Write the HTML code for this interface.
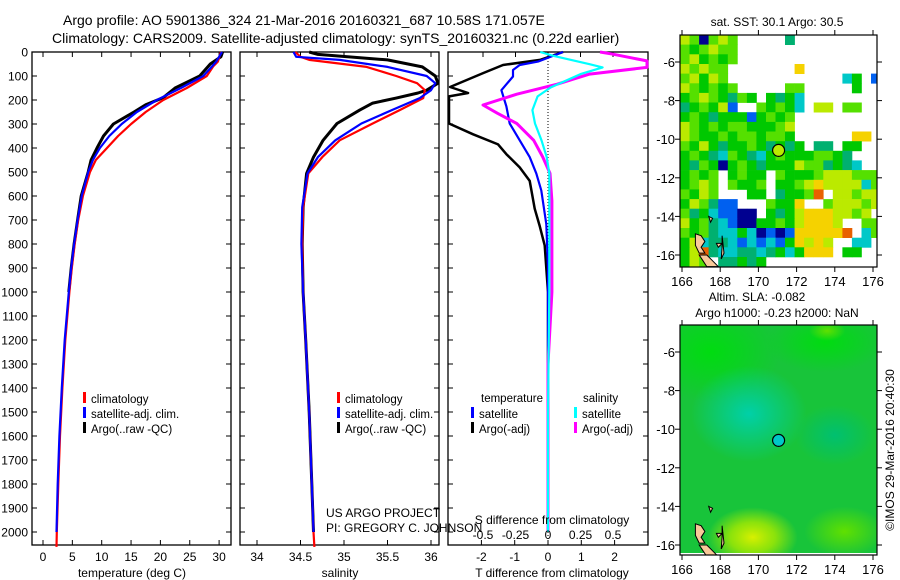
<!DOCTYPE html>
<html><head><meta charset="utf-8"><style>
html,body{margin:0;padding:0;background:#fff;}
svg{display:block;font-family:"Liberation Sans",sans-serif;}
text{fill:#000;}
</style></head><body>
<svg id="fig" width="900" height="580" viewBox="0 0 900 580">
<g id="defs-g"><defs>
<clipPath id="clipM1"><rect x="680" y="35" width="197" height="232"/></clipPath>
<clipPath id="clipM2"><rect x="680" y="325" width="197" height="230"/></clipPath>
<radialGradient id="gCyan" cx="0.5" cy="0.5" r="0.5"><stop offset="0" stop-color="#00d0a8"/><stop offset="1" stop-color="#00d0a8" stop-opacity="0"/></radialGradient>
<radialGradient id="gYel" cx="0.5" cy="0.5" r="0.5"><stop offset="0" stop-color="#d8f000"/><stop offset="0.5" stop-color="#a8ea00" stop-opacity="0.8"/><stop offset="1" stop-color="#a8ea00" stop-opacity="0"/></radialGradient>
<radialGradient id="gLime" cx="0.5" cy="0.5" r="0.5"><stop offset="0" stop-color="#60e000"/><stop offset="1" stop-color="#60e000" stop-opacity="0"/></radialGradient>
<radialGradient id="gTeal" cx="0.5" cy="0.5" r="0.5"><stop offset="0" stop-color="#00c070"/><stop offset="1" stop-color="#00c070" stop-opacity="0"/></radialGradient>
<radialGradient id="gBright" cx="0.5" cy="0.5" r="0.5"><stop offset="0" stop-color="#00dc10"/><stop offset="1" stop-color="#00dc10" stop-opacity="0"/></radialGradient>
</defs></g>
<text x="63" y="25" font-size="14">Argo profile: AO 5901386_324 21-Mar-2016 20160321_687 10.58S 171.057E</text>
<text x="52" y="43" font-size="14">Climatology: CARS2009. Satellite-adjusted climatology: synTS_20160321.nc (0.22d earlier)</text>
<g id="p1"></g><g id="p2"></g><g id="p3"></g>
<g id="m1"></g><g id="m2"></g>
</svg>
<script>
// ---------- data ----------
const depthTicks=[0,100,200,300,400,500,600,700,800,900,1000,1100,1200,1300,1400,1500,1600,1700,1800,1900,2000];
const tempTicks=[0,5,10,15,20,25,30];
const salTicks=[34,34.5,35,35.5,36];
const tdiffTicks=[-2,-1,0,1,2];
const sdiffTicks=[-0.5,-0.25,0,0.25,0.5];
const sdiffTickLabels=["-0.5","-0.25","0","0.25","0.5"];

const tClimDepth=[0,40,60,100,150,200,250,300,350,400,450,500,600,700,800,900,1000,1200,1400,1600,1800,2000,2062];
const tClim=[30.3,29.8,29,27.9,24.5,20.5,17.5,15,12.8,10.9,9,8,6.8,6,5.4,4.9,4.5,3.8,3.3,2.9,2.6,2.35,2.3];
const tSatDepth=[0,40,60,100,150,200,250,300,350,400,450,500,600,700,800,900,1000,1200,1400,1600,1800,2000];
const tSat=[30.5,29.5,28.8,27.3,23.5,19.4,16,13.4,11.3,9.7,8.5,7.7,6.6,5.9,5.3,4.8,4.4,3.7,3.2,2.8,2.5,2.3];
const tArgoDepth=[0,20,50,100,150,190,220,250,300,350,400,450,500,600,700,800,900,1000];
const tArgo=[30.6,30.3,28.5,26.7,22.5,20.5,17.5,15.5,12,10.3,9.2,8.2,7.7,6.5,5.9,5.3,4.8,4.4];

const sDepth=[0,20,33,62,100,130,159,192,242,298,368,438,506,647,800,1000,1200,1500,1800,2000,2062];
const sClim=[34.44,34.5,34.6,35.26,35.6,35.84,35.93,35.91,35.64,35.33,34.95,34.75,34.59,34.53,34.52,34.53,34.56,34.6,34.63,34.65,34.66];
const sSat=[34.42,34.45,34.95,35.5,35.95,36.05,36.0,35.87,35.55,35.2,34.9,34.7,34.58,34.52,34.51,34.53,34.56,34.6,34.63,34.65];
const sArgoDepth=[0,10,33,62,100,130,159,171,192,213,242,298,368,438,506,647,800,1000,1200,1500,1800,2000];
const sArgo=[34.6,34.7,35.5,35.9,36.05,36.08,35.95,35.85,35.6,35.33,35.18,34.92,34.76,34.65,34.57,34.53,34.52,34.53,34.56,34.6,34.63,34.65];

const dTDepth=[0,33,54,88,146,171,185,298,343,385,426,481,537,653,725,806,1000,1500,2000];
const dTArgo=[0.45,-0.24,-1.35,-1.95,-2.94,-2.4,-3.2,-3.2,-2.25,-1.5,-1.25,-0.85,-0.55,-0.4,-0.25,-0.1,0,0,0];
const dTSatDepth=[0,40,54,75,102,159,227,298,368,438,506,577,717,900,1200,1500,2000];
const dTSat=[0.45,-0.3,-0.85,-1.05,-1.05,-1.4,-1.25,-1.15,-0.85,-0.55,-0.35,-0.2,-0.05,0,0,0,0];
const dSSatDepth=[0,16,51,64,92,148,185,242,298,368,438,506,700,1000,1500,2000];
const dSSat=[-0.06,0.04,0.32,0.42,0.25,0.02,-0.08,-0.12,-0.1,-0.05,-0.01,0.01,0.01,0.01,0.0,0.0];
const dSArgoDepth=[0,9,37,64,92,134,176,221,255,298,368,438,506,620,800,1000,1100,1300,2000];
const dSArgo=[0.4,0.5,0.78,0.78,0.32,0.07,-0.24,-0.5,-0.39,-0.24,-0.11,-0.04,0.015,0.03,0.03,0.03,0.02,0.0,0.0];

const sstRows=[
"ylnlyl.....t.........",
"lglyll...............",
"lyglgl...............",
"ylyll.......Y........",
"lygyl............cg.b",
"ylglgl.....ll.....g..",
"glylgtlg.gtgc........",
"tglgyb..lglgc.yy.ll..",
"glgtgggbglgl.........",
"ylglgllgggly.........",
"ylgglgllgllg......YY.",
"lgygtgglgtgtg.tt.gg..",
"glgtclgtcglgggllgt...",
"gtlgnglgtgggylltgtc..",
"glgl.glgg.lggglyyylll",
"glyl.lggl.gglyYyyyycl",
"lgyl...gg.tgglo.yylyy",
"gyltbb...lggY..lyyyly",
"ltgcbbnn.gtgyYYYyyly.",
"ygltcbnngglgyYYYy..ll",
"lgltccgcnbnbYYYYYo.cl",
"gycttcbcbcbgYyYy..cc.",
"gyotccttctgcgYYY.gg..",
"gyl.ttgtg............"];
const sstColors={g:"#00c800",l:"#55e000",y:"#bbea00",Y:"#f5d200",o:"#e86000",t:"#00b070",c:"#00c8c8",b:"#0060f0",n:"#000090"};
const lonTicks=[166,168,170,172,174,176];
const latTicks=[-6,-8,-10,-12,-14,-16];
const floatLon=171.057, floatLat=-10.58;

// ---------- helpers ----------
const NS="http://www.w3.org/2000/svg";
function mk(tag,attrs,parent){const e=document.createElementNS(NS,tag);for(const k in attrs)e.setAttribute(k,attrs[k]);parent.appendChild(e);return e;}
function txt(s,x,y,size,anchor,parent){const t=mk("text",{x:x,y:y,"font-size":size,"text-anchor":anchor||"start"},parent);t.textContent=s;return t;}
const TOP=52, BOT=545, FS=12;
const yD=d=>TOP+d*0.24;

function panel(g,x0,x1,name){
  const r=mk("rect",{x:x0,y:TOP,width:x1-x0,height:BOT-TOP,fill:"none",stroke:"#000","stroke-width":1.3},g);
  
  
  depthTicks.forEach(d=>{
    mk("line",{x1:x0,x2:x0+5,y1:yD(d),y2:yD(d),stroke:"#000"},g);
    mk("line",{x1:x1-5,x2:x1,y1:yD(d),y2:yD(d),stroke:"#000"},g);
  });
}
function line(g,xs,ds,xf,color,w,name,x0,x1){
  const pts=xs.map((v,i)=>{let x=xf(v);x=Math.max(x0,Math.min(x1,x));return x.toFixed(1)+","+yD(ds[i]).toFixed(1);}).join(" ");
  const p=mk("polyline",{points:pts,fill:"none",stroke:color,"stroke-width":w,"stroke-linejoin":"round"},g);
  
  
}
function legendEntry(g,x,y,color,label,name){
  mk("rect",{x:x,y:y-6,width:3,height:11,fill:color},g);
  const t=txt(label,x+8,y+5,11.5,"start",g);
  
  
}

// ---------- panel 1 : temperature ----------
const p1=document.getElementById("p1");


const xT=t=>43+t*5.87;
panel(p1,32,231,"temperature-panel");
depthTicks.forEach(d=>{txt(String(d),28,yD(d)+4.5,FS,"end",p1);});
tempTicks.forEach(v=>{
  mk("line",{x1:xT(v),x2:xT(v),y1:TOP,y2:TOP+5,stroke:"#000"},p1);
  mk("line",{x1:xT(v),x2:xT(v),y1:BOT-5,y2:BOT,stroke:"#000"},p1);
  txt(String(v),xT(v),561,FS,"middle",p1);
});
const tt=txt("temperature (deg C)",132,577,FS,"middle",p1);


line(p1,tArgo,tArgoDepth,xT,"#000",3,"temp-argo-line",32,231);
line(p1,tClim,tClimDepth,xT,"#f00",2.2,"temp-climatology-line",32,231);
line(p1,tSat,tSatDepth,xT,"#00f",2.2,"temp-satellite-line",32,231);
legendEntry(p1,83,398,"#f00","climatology","legend-climatology");
legendEntry(p1,83,413,"#00f","satellite-adj. clim.","legend-satellite");
legendEntry(p1,83,428,"#000","Argo(..raw -QC)","legend-argo");

// ---------- panel 2 : salinity ----------
const p2=document.getElementById("p2");


const xS=s=>257+(s-34)*87;
panel(p2,240,439,"salinity-panel");
salTicks.forEach(v=>{
  mk("line",{x1:xS(v),x2:xS(v),y1:TOP,y2:TOP+5,stroke:"#000"},p2);
  mk("line",{x1:xS(v),x2:xS(v),y1:BOT-5,y2:BOT,stroke:"#000"},p2);
  txt(String(v),xS(v),561,FS,"middle",p2);
});
const st=txt("salinity",340,577,FS,"middle",p2);


line(p2,sArgo,sArgoDepth,xS,"#000",3,"sal-argo-line",240,439);
line(p2,sClim,sDepth,xS,"#f00",2.2,"sal-climatology-line",240,439);
line(p2,sSat,sDepth.slice(0,sSat.length),xS,"#00f",2.2,"sal-satellite-line",240,439);
legendEntry(p2,337,398,"#f00","climatology","legend-climatology-2");
legendEntry(p2,337,413,"#00f","satellite-adj. clim.","legend-satellite-2");
legendEntry(p2,337,428,"#000","Argo(..raw -QC)","legend-argo-2");
const c1=txt("US ARGO PROJECT",326,517,FS,"start",p2);


const c2=txt("PI: GREGORY C. JOHNSON",326,532,FS,"start",p2);



// ---------- panel 3 : differences ----------
const p3=document.getElementById("p3");


const xDT=t=>548+t*33.3;
const xDS=s=>548+s*130;
panel(p3,448,648,"difference-panel");
mk("line",{x1:548,x2:548,y1:TOP,y2:BOT,stroke:"#000","stroke-dasharray":"1,2"},p3);
tdiffTicks.forEach(v=>{
  mk("line",{x1:xDT(v),x2:xDT(v),y1:BOT-5,y2:BOT,stroke:"#000"},p3);
  txt(String(v),xDT(v),561,FS,"middle",p3);
});
sdiffTicks.forEach(v=>{
  mk("line",{x1:xDS(v),x2:xDS(v),y1:TOP,y2:TOP+5,stroke:"#000"},p3);
});
line(p3,dTArgo,dTDepth,xDT,"#000",2.5,"tdiff-argo-line",449,647);
line(p3,dTSat,dTSatDepth,xDT,"#00f",2.2,"tdiff-satellite-line",449,647);
line(p3,dSArgo,dSArgoDepth,xDS,"#f0f",3,"sdiff-argo-line",449,647);
line(p3,dSSat,dSSatDepth,xDS,"#0ff",2.2,"sdiff-satellite-line",449,647);
sdiffTicks.forEach((v,i)=>{txt(sdiffTickLabels[i],xDS(v),539,FS,"middle",p3);});
const sdt=txt("S difference from climatology",552,524,FS,"middle",p3);


const tdt=txt("T difference from climatology",552,577,FS,"middle",p3);


txt("temperature",481,402,11.5,"start",p3);
txt("salinity",583,402,11.5,"start",p3);
legendEntry(p3,471,413,"#00f","satellite","legend-t-satellite");
legendEntry(p3,471,428,"#000","Argo(-adj)","legend-t-argo");
legendEntry(p3,574,413,"#0ff","satellite","legend-s-satellite");
legendEntry(p3,574,428,"#f0f","Argo(-adj)","legend-s-argo");

// ---------- maps ----------
const MX0=680,MX1=877;
const xLon=l=>682+(l-166)*19.1;
function mapAxes(g,top,bot,lat6y,name){
  const yLat=l=>lat6y+(-6-l)*19.3;
  const r=mk("rect",{x:MX0,y:top,width:MX1-MX0,height:bot-top,fill:"none",stroke:"#000","stroke-width":1.2},g);
  
  
  lonTicks.forEach(l=>{
    mk("line",{x1:xLon(l),x2:xLon(l),y1:top-5,y2:top,stroke:"#000"},g);
    mk("line",{x1:xLon(l),x2:xLon(l),y1:bot,y2:bot+5,stroke:"#000"},g);
    txt(String(l),xLon(l),bot+19,13,"middle",g);
  });
  latTicks.forEach(l=>{
    mk("line",{x1:MX0-5,x2:MX0,y1:yLat(l),y2:yLat(l),stroke:"#000"},g);
    mk("line",{x1:MX1,x2:MX1+5,y1:yLat(l),y2:yLat(l),stroke:"#000"},g);
    txt(String(l),MX0-5,yLat(l)+5,13,"end",g);
  });
  return yLat;
}
function land(g,yLat){
  const shapes=[
    [[166.7,-14.9],[167.0,-15.0],[167.2,-15.3],[167.0,-15.6],[167.2,-15.9],[166.9,-15.9],[166.7,-15.5]],
    [[166.9,-16.0],[167.3,-16.0],[167.6,-16.3],[167.9,-16.6],[167.3,-16.6],[167.1,-16.3]],
    [[167.4,-14.0],[167.6,-14.1],[167.5,-14.3]],
    [[167.8,-15.4],[168.1,-15.4],[167.9,-15.6]],
    [[168.1,-15.0],[168.2,-15.9],[168.05,-16.2],[168.1,-15.6]]
  ];
  shapes.forEach(s=>{
    const p=mk("polygon",{points:s.map(q=>xLon(q[0]).toFixed(1)+","+yLat(q[1]).toFixed(1)).join(" "),fill:"#f8c898",stroke:"#000","stroke-width":1},g);
    
    
  });
}

// top map: SST
const m1=document.getElementById("m1");


const m1c=mk("g",{"clip-path":"url(#clipM1)"},m1);
const cw=0.5*19.1, ch=0.5*19.3;
sstRows.forEach((row,ri)=>{
  for(let ci=0;ci<21;ci++){
    const c=row[ci]||".";
    if(c==="."||!sstColors[c])continue;
    const cell=mk("rect",{x:(MX0+ci*cw).toFixed(1),y:(35+ri*ch).toFixed(1),width:(cw+0.3).toFixed(1),height:(ch+0.3).toFixed(1),fill:sstColors[c]},m1c);
    
    
  }
});
const yLat1=mapAxes(m1,35,267,62,"sst-map");
land(m1c,yLat1);
const f1=mk("circle",{cx:xLon(floatLon),cy:yLat1(floatLat),r:6,fill:"#bbea00",stroke:"#000","stroke-width":1.2},m1);


const mt1=txt("sat. SST: 30.1 Argo: 30.5",777,26,FS,"middle",m1);



// bottom map: SLA
const m2=document.getElementById("m2");


const m2c=mk("g",{"clip-path":"url(#clipM2)"},m2);
const yLat2=l=>352+(-6-l)*19.3;
mk("rect",{x:MX0,y:325,width:MX1-MX0,height:229,fill:"#18c43a"},m2c);
mk("ellipse",{cx:xLon(167.5),cy:yLat2(-6),rx:70,ry:50,fill:"url(#gBright)"},m2c);
mk("ellipse",{cx:xLon(173.5),cy:yLat2(-5.5),rx:60,ry:30,fill:"url(#gBright)"},m2c);
mk("ellipse",{cx:xLon(173.6),cy:yLat2(-4.9),rx:18,ry:10,fill:"url(#gLime)"},m2c);
mk("ellipse",{cx:xLon(169.5),cy:yLat2(-9.2),rx:58,ry:48,fill:"url(#gCyan)"},m2c);
mk("ellipse",{cx:xLon(174),cy:yLat2(-10.3),rx:40,ry:30,fill:"url(#gTeal)"},m2c);
mk("ellipse",{cx:xLon(169.7),cy:yLat2(-15.6),rx:45,ry:30,fill:"url(#gYel)"},m2c);
mk("ellipse",{cx:xLon(174.5),cy:yLat2(-15.3),rx:40,ry:25,fill:"url(#gLime)"},m2c);
mk("rect",{x:MX0,y:553,width:MX1-MX0,height:2,fill:"#fff"},m2c);
land(m2c,yLat2);
mapAxes(m2,325,555,352,"sla-map");
const f2=mk("circle",{cx:xLon(floatLon),cy:yLat2(floatLat),r:6,fill:"#00c8c8",stroke:"#000","stroke-width":1.2},m2);


const mt2=txt("Altim. SLA: -0.082",757,301,FS,"middle",m2);


const mt3=txt("Argo h1000: -0.23 h2000: NaN",777,317,FS,"middle",m2);


const cr=txt("©IMOS 29-Mar-2016 20:40:30",0,0,FS,"middle",m2);
cr.setAttribute("transform","translate(894,450) rotate(-90)");


</script>
</body></html>
